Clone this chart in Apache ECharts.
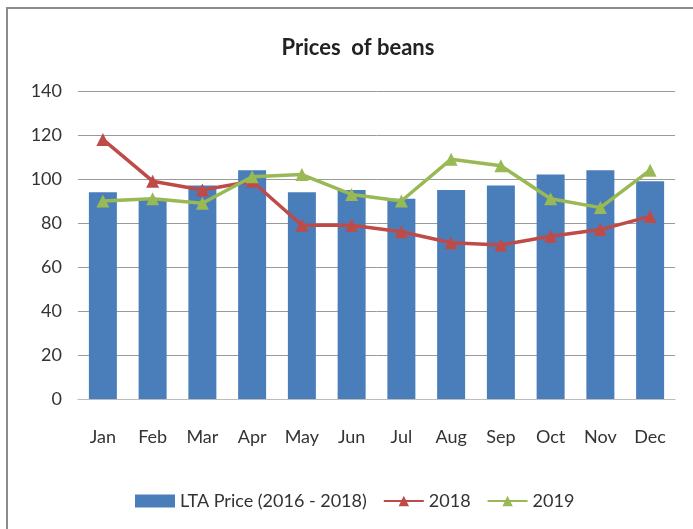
<!DOCTYPE html>
<html>
<head>
<meta charset="utf-8">
<script src="https://cdn.jsdelivr.net/npm/echarts@6/dist/echarts.min.js"></script>
<style>
  html, body { margin: 0; padding: 0; background: #fff; }
  #chart { width: 693px; height: 529px; }
</style>
</head>
<body>
<div id="chart"></div>
<script>
const months = ["Jan", "Feb", "Mar", "Apr", "May", "Jun", "Jul", "Aug", "Sep", "Oct", "Nov", "Dec"];
const ltaPrice = [94, 91, 97, 104, 94, 95, 91, 95, 97, 102, 104, 99];
const price2018 = [118, 99, 95, 99, 79, 79, 76, 71, 70, 74, 77, 83];
const price2019 = [90, 91, 89, 101, 102, 93, 90, 109, 106, 91, 87, 104];

const font = "Lato, sans-serif";

const chart = echarts.init(document.getElementById("chart"));

chart.setOption({
  animation: false,
  textStyle: { fontFamily: font },
  graphic: [
    {
      type: "polyline",
      shape: { points: [[7, 529], [7, 8], [693, 8]] },
      style: { stroke: "#8c8c8c", lineWidth: 2, fill: null },
    },
  ],
  title: {
    text: "Prices  of beans",
    left: 353,
    top: 32,
    textAlign: "center",
    textStyle: { fontFamily: font, fontSize: 22, fontWeight: "bold", color: "#222" },
  },
  grid: { left: 78, right: 18, top: 91, bottom: 130 },
  legend: {
    left: 130,
    top: 487,
    itemGap: 16,
    itemWidth: 40,
    itemHeight: 13,
    textStyle: { fontFamily: font, fontSize: 18, color: "#333" },
    data: [
      { name: "LTA Price (2016 - 2018)", icon: "rect" },
      { name: "2018" },
      { name: "2019" },
    ],
  },
  xAxis: {
    type: "category",
    data: months,
    axisLine: { lineStyle: { color: "#bbb" } },
    axisTick: { show: false },
    axisLabel: { color: "#333", fontSize: 18, margin: 29 },
  },
  yAxis: {
    type: "value",
    min: 0,
    max: 140,
    interval: 20,
    axisLine: { show: false },
    axisTick: { show: false },
    axisLabel: { color: "#333", fontSize: 18, margin: 16 },
    splitLine: { lineStyle: { color: "#9a9a9a", width: 1 } },
  },
  series: [
    {
      name: "LTA Price (2016 - 2018)",
      type: "bar",
      data: ltaPrice,
      barWidth: 28,
      itemStyle: { color: "#4a7ebb" },
    },
    {
      name: "2018",
      type: "line",
      data: price2018,
      symbol: "triangle",
      symbolSize: 13,
      lineStyle: { color: "#be4b48", width: 3.5 },
      itemStyle: { color: "#be4b48" },
    },
    {
      name: "2019",
      type: "line",
      data: price2019,
      symbol: "triangle",
      symbolSize: 13,
      lineStyle: { color: "#98b954", width: 3.5 },
      itemStyle: { color: "#98b954" },
    },
  ],
});
</script>
</body>
</html>
